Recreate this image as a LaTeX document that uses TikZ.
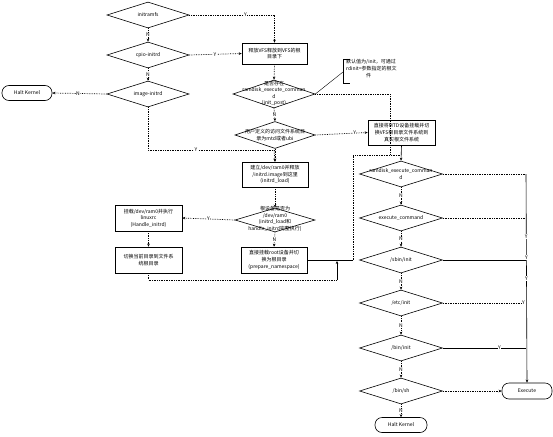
\documentclass[tikz,border=0pt]{standalone}
\usepackage{fontspec}
\setmainfont{Noto Sans CJK SC}
\usetikzlibrary{shapes.geometric,arrows.meta}
\newcommand{\fs}{\fontsize{5}{6.6}\selectfont}
\begin{document}
\begin{tikzpicture}[x=1pt,y=-1pt,
  font=\fs,
  box/.style={draw, line width=0.6pt, align=center, inner sep=1pt},
  dia/.style={draw, shape=diamond, inner sep=0pt, line width=0.6pt, minimum width=82pt, minimum height=26pt},
  txt/.style={align=center, inner sep=0pt},
  term/.style={draw, line width=0.6pt, rounded corners=7pt, minimum width=50pt, minimum height=15pt, inner sep=1pt},
  con/.style={densely dotted, line width=0.7pt},
  sol/.style={line width=0.6pt},
  arr/.style={-{Stealth[length=3pt,width=2.6pt]}},
  lab/.style={inner sep=0.4pt, fill=white}
]
\useasboundingbox (0,0) rectangle (553,436);

% left column diamonds
\node[dia] (ini) at (148,15) {};
\node[txt] at (ini) {initramfs};
\node[dia] (cpio) at (148,55) {};
\node[txt] at (cpio) {cpio-initrd};
\node[dia] (img) at (148,94) {};
\node[txt] at (img) {image-initrd};
\node[term] (halt1) at (27,93) {Halt Kernel};

% middle column
\node[box, minimum width=65pt, minimum height=21pt] (b1) at (274.5,53.5) {释放VFS释放到VFS的根\\目录下};
\node[dia, minimum height=28pt] (d1) at (274,94) {};
\node[txt] at (274,93.5) {是否存在\\ramdisk\_execute\_comman\\d\\(init\_post)};
\node[dia, minimum width=80pt, minimum height=27pt] (d2) at (275,135) {};
\node[txt] at (d2) {用户定义的访问文件系统目\\录为mtd或者ubi};
\node[box, minimum width=67pt, minimum height=25pt] (mtd) at (401.5,132.5) {直接将MTD设备挂载并切\\换VFS根目录文件系统到\\真实根文件系统};

% annotation
\node[txt, anchor=north west, align=left] (ann) at (346,59.5) {默认值为/init，可通过\\rdinit=参数指定的根文\\\hspace*{20pt}件};
\draw[sol] (350,59) -- (343,59) -- (343,83) -- (350,83);
\coordinate (annp) at (343,72);
\draw[line width=0.4pt] (d1.east) -- (annp);

\node[box, minimum width=66pt, minimum height=25pt] (load) at (275,174.5) {建立/dev/ram0并释放\\/initrd.image到这里\\(initrd\_load)};
\node[dia, minimum width=80pt, minimum height=24pt] (ram0) at (275,220) {};
\node[txt] at (275,219) {根设备是否为\\/dev/ram0\\(initrd\_load和\\handle\_initrd完整执行)};
\node[box, minimum width=67pt, minimum height=26pt] (handle) at (148.5,218) {挂载/dev/ram0并执行\\linuxrc\\(Handle\_initrd)};
\node[box, minimum width=67pt, minimum height=26pt] (sw) at (148.5,260) {切换当前目录到文件系\\统根目录};
\node[box, minimum width=66pt, minimum height=26pt] (prep) at (274,260) {直接挂载root设备并切\\换为根目录\\(prepare\_namespace)};

% right column
\node[dia, minimum width=83pt] (r1) at (401,174) {};
\node[txt] at (r1) {ramdisk\_execute\_comman\\d};
\node[dia, minimum width=83pt] (r2) at (401,218) {};
\node[txt] at (r2) {execute\_command};
\node[dia, minimum width=83pt] (r3) at (401,260) {};
\node[txt] at (r3) {/sbin/init};
\node[dia, minimum width=83pt] (r4) at (401,303) {};
\node[txt] at (r4) {/etc/init};
\node[dia, minimum width=83pt] (r5) at (401,348) {};
\node[txt] at (r5) {/bin/init};
\node[dia, minimum width=83pt] (r6) at (401,391) {};
\node[txt] at (r6) {/bin/sh};
\node[term, minimum width=52pt] (halt2) at (401,425) {Halt Kernel};
\node[term, minimum height=16pt] (exec) at (527,391) {Execute};

% coordinates
\coordinate (j1) at (274,150);
\coordinate (j2) at (390,155);
\coordinate (j3) at (353,260);
\coordinate (j4) at (401,155);
\coordinate (j5) at (337,280);
\coordinate (j6) at (337,261);
\coordinate (k1) at (526,174);
\coordinate (k2) at (526,218);
\coordinate (k3) at (526,260);
\coordinate (k4) at (526,303);
\coordinate (k5) at (526,348);

% left column connectors
\draw[con,arr] (ini.east) -| node[lab,pos=0.33]{Y} (b1.north);
\draw[con,arr] (ini.south) -- node[lab]{N} (cpio.north);
\draw[con,arr] (cpio.east) -- node[lab,pos=0.49]{Y} (b1.west);
\draw[con,arr] (cpio.south) -- node[lab]{N} (img.north);
\draw[con,arr] (img.west) -- node[lab,pos=0.53]{N} (halt1.east);
\draw[con] (img.south) |- node[lab,pos=0.69]{Y} (j1);
\draw[con,arr] (j1) -- (load.north);

% middle connectors
\draw[con,arr] (b1.south) -- (d1.north);
\draw[con,arr] (d1.south) -- node[lab]{N} (d2.north);
\draw[con,arr] (d2.east) -- node[lab,pos=0.75]{Y} (mtd.west);
\draw[con,arr] (d2.south) -- (load.north);
\draw[con] (d1.east) -| (j2);
\draw[sol,arr] (mtd.south) -- (r1.north);
\draw[con,arr] (load.south) -- (ram0.north);
\draw[con,arr] (ram0.west) -- node[lab,pos=0.5]{Y} (handle.east);
\draw[con,arr] (ram0.south) -- node[lab]{N} (prep.north);
\draw[con,arr] (handle.south) -- (sw.north);
\draw[sol] (prep.east) -- (j3);
\draw[con] (j3) |- (j4);
\draw[con] (sw.south) |- (j5);
\draw[sol,arr] (j5) -- (j6);

% right column connectors
\draw[con,arr] (r1.south) -- node[lab]{N} (r2.north);
\draw[con,arr] (r2.south) -- node[lab]{N} (r3.north);
\draw[con,arr] (r3.south) -- node[lab]{N} (r4.north);
\draw[con,arr] (r4.south) -- node[lab]{N} (r5.north);
\draw[con,arr] (r5.south) -- node[lab]{N} (r6.north);
\draw[con,arr] (r6.south) -- node[lab]{N} (halt2.north);
\draw[con] (r1.east) -- (k1);
\draw[sol,arr] (k1) -- node[lab,pos=0.30]{Y} node[lab,pos=0.40]{Y} node[lab,pos=0.50]{Y} (exec.north);
\draw[con] (r2.east) -- (k2);
\draw[sol] (r3.east) -- (k3);
\draw[con] (r4.east) -- node[lab,pos=0.97]{Y} (k4);
\draw[sol] (r5.east) -- node[lab,pos=0.68]{Y} (k5);
\draw[con,arr] (r6.east) -- (exec.west);
\end{tikzpicture}
\end{document}
